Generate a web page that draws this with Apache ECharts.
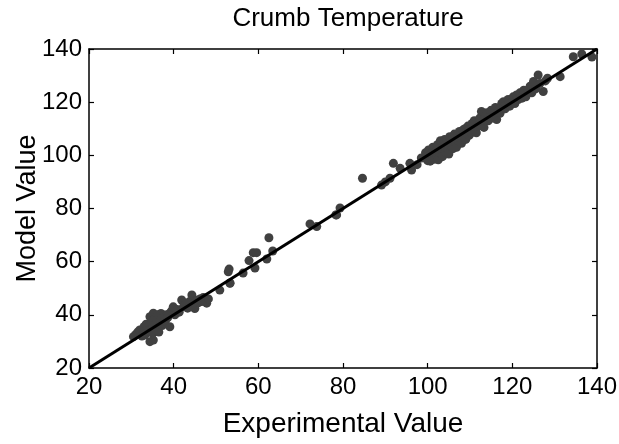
<!DOCTYPE html>
<html><head><meta charset="utf-8">
<script src="https://cdn.jsdelivr.net/npm/echarts@6/dist/echarts.min.js"></script>
<style>html,body{margin:0;padding:0;background:#fff}#c{width:619px;height:444px}</style>
</head><body><div id="c"></div>
<script>
var title = "Crumb Temperature";
var xName = "Experimental Value";
var yName = "Model Value";
var ticks = [20, 40, 60, 80, 100, 120, 140];
var lowCluster = [[30.5,31.8],[31,32.5],[31.5,33.5],[32,34.3],[32.5,32],[33,35.5],[33.2,32.4],[33.5,36.5],[34,34],[34.4,39.3],[34.4,29.9],[34.8,37],[35,33],[35.2,40.6],[35.2,30.5],[35.5,38.5],[35.8,35],[36,36.8],[36.3,40],[36.5,33.5],[36.8,38],[37,40.5],[37.3,36],[37.6,39],[38,37.5],[38.3,40],[38.6,39],[39.1,35.5],[39.1,40.6],[39.5,41.5],[39.9,43],[40.3,40],[40.8,42],[41.3,41],[41.9,45.6],[42.3,43],[42.8,44],[43.3,42.5],[43.8,45],[44.3,47.5],[44.6,44],[45,42.4],[45.4,45.5],[45.8,44.5],[46.2,46],[46.6,45],[47,46.5],[47.4,45],[47.8,44.4],[48.2,46]];
var midPoints = [[50.9,49.3],[52.9,56.2],[53.3,51.9],[53.1,57.2],[53.3,52],[56.4,55.7],[57.8,60.4],[59.2,57.6],[58.8,63.4],[59.6,63.4],[62,61],[62.5,69],[63.4,64],[72.2,74.2],[73.8,73.2],[78.3,77.6],[78.5,77.6],[79.3,80.2],[84.6,91.4],[89.1,88.8],[90,90],[91.1,91.4],[91.9,97],[93.5,95.1],[95.8,97],[96.2,94.5],[97.5,96.5],[98.5,99]];
var highCluster = [[99.5,101],[100,98],[100.2,102],[100.3,99.5],[100.6,97.8],[101,100.5],[101.2,103],[101.5,98.5],[101.8,101.5],[102,99],[102.3,104],[102.5,98.3],[102.8,101],[103,105.5],[103.2,102],[103.5,99.5],[103.8,103.5],[104,106],[104.2,101],[104.5,104.5],[104.8,102],[105,100.5],[105.2,107],[105.5,104],[105.8,106],[106,102.5],[106.3,108],[106.5,105],[106.8,103],[107,107.5],[107.3,105.5],[107.5,109],[107.8,106],[108,104.5],[108.3,109.5],[108.5,107],[108.8,110],[109,106],[109.3,108.5],[109.5,111],[109.8,107.5],[110,110],[110.3,108.5],[110.5,112],[110.8,109.5],[111,113],[111.3,110],[111.5,108.5],[111.8,112.5],[112,111],[112.3,114],[112.7,116.5],[113,112],[113.3,110.5],[113.6,114.5],[114,116],[114.3,113],[114.7,115],[115,117],[115.3,114],[115.7,116.5],[116,118],[116.3,113.5],[116.7,117],[117.1,115.8],[117.5,119.5],[117.9,120.2],[118.3,117.5],[118.6,119.6],[119,121],[119.4,118.5],[119.8,120],[120.2,122],[120.6,119.5],[121,122.7],[121.4,121],[121.8,123.5],[122.3,121.5],[122.7,124.5],[123.2,122],[123.8,124.6],[124.2,126],[124.6,123.5],[125,127.8],[125.5,125],[126.1,130.2],[126.5,127],[127.3,124],[127.8,128],[128.3,129],[131.3,129.6],[134.4,137.1],[136.4,138.1],[138.8,137]];
var fitLine = [[20,20],[140,140]];

var chart = echarts.init(document.getElementById('c'));
var font = "'Liberation Sans', Arial, sans-serif";
function axisCommon(show) {
  return {
    min: 20, max: 140, interval: 20,
    axisLine: {show: true, onZero: false, lineStyle: {color: '#000', width: 1.5}},
    axisTick: {show: true, inside: true, length: 5, lineStyle: {color: '#000', width: 1.2}},
    splitLine: {show: false},
    axisLabel: {show: show, color: '#000', fontSize: 24, fontFamily: font, margin: 7}
  };
}
var xa = Object.assign(axisCommon(true), {type: 'value', position: 'bottom', name: xName, nameLocation: 'middle', nameGap: 42, nameMoveOverlap: false, nameTextStyle: {fontSize: 28, color: '#000', fontFamily: font}});
var xa2 = Object.assign(axisCommon(false), {type: 'value', position: 'top'});
var ya = Object.assign(axisCommon(true), {type: 'value', position: 'left', name: yName, nameLocation: 'middle', nameGap: 48, nameMoveOverlap: false, nameTextStyle: {fontSize: 27, color: '#000', fontFamily: font}});
var ya2 = Object.assign(axisCommon(false), {type: 'value', position: 'right'});
var pts = lowCluster.concat(midPoints, highCluster);
chart.setOption({
  animation: false,
  title: {text: title, left: 343, textAlign: 'center', top: 1, textStyle: {fontSize: 26, fontWeight: 'normal', color: '#000', fontFamily: font}},
  grid: {left: 89, right: 22, top: 49, bottom: 76, containLabel: false, outerBoundsMode: 'none'},
  xAxis: [xa, xa2],
  yAxis: [ya, ya2],
  series: [
    {type: 'scatter', data: pts, symbolSize: 9, itemStyle: {color: '#404040', opacity: 1}, z: 2},
    {type: 'line', data: fitLine, showSymbol: false, symbol: 'none', lineStyle: {color: '#000', width: 3}, z: 3}
  ]
});
</script></body></html>
